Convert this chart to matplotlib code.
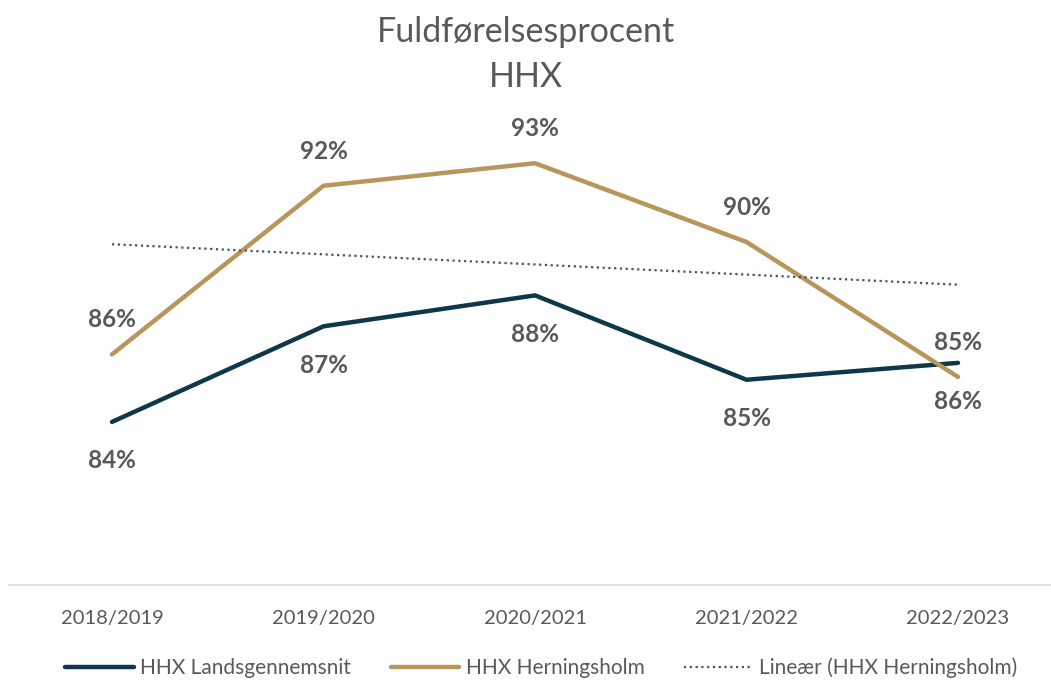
import matplotlib

matplotlib.use("Agg")
import matplotlib.pyplot as plt
import numpy as np

years = ["2018/2019", "2019/2020", "2020/2021", "2021/2022", "2022/2023"]
lands = [83.8, 87.2, 88.3, 85.3, 85.9]
herning = [86.2, 92.2, 93.0, 90.2, 85.4]

NAVY = "#0E3847"
GOLD = "#B8955A"
TREND = "#44546A"
TEXT = "#595959"

plt.rcParams["font.family"] = ["Lato", "DejaVu Sans"]

fig = plt.figure(figsize=(10.51, 6.8), dpi=100)
ax = fig.add_axes([9 / 1051, 1 - 585 / 680, 1 - 9 / 1051, (585 - 107) / 680])

x = np.arange(len(years))
ax.plot(x, lands, color=NAVY, linewidth=3.2, solid_capstyle="round", label="HHX Landsgennemsnit")
ax.plot(x, herning, color=GOLD, linewidth=3.2, solid_capstyle="round", label="HHX Herningsholm")
k, m = np.polyfit(x, herning, 1)
ax.plot(x, k * x + m, color=TREND, linewidth=1.6, linestyle=(0, (1, 1.6)),
        label="Lineær (HHX Herningsholm)")

for i in range(len(years)):
    ax.annotate(f"{round(herning[i])}%", (x[i], herning[i]), xytext=(0, 25),
                textcoords="offset points", ha="center", va="center",
                fontsize=17.5, fontweight="bold", color=TEXT)
    ax.annotate(f"{round(lands[i])}%", (x[i], lands[i]), xytext=(0, -28),
                textcoords="offset points", ha="center", va="center",
                fontsize=17.5, fontweight="bold", color=TEXT)

ax.set_xlim(-103 / 211.5, 939 / 211.5)
ax.set_ylim(78, 95)
ax.set_xticks(x)
ax.set_xticklabels(years, fontsize=14.5, color=TEXT)
ax.tick_params(axis="x", length=0, pad=18)
ax.set_yticks([])
for side in ["top", "left", "right"]:
    ax.spines[side].set_visible(False)
ax.spines["bottom"].set_color("#D9D9D9")
ax.spines["bottom"].set_linewidth(1.2)

fig.text(0.5, 1 - 32 / 680, "Fuldførelsesprocent", ha="center", va="center", fontsize=24.5, color=TEXT)
fig.text(0.5, 1 - 77 / 680, "HHX", ha="center", va="center", fontsize=24.5, color=TEXT)

fig.legend(loc="center", bbox_to_anchor=(0.515, 1 - 668 / 680), ncol=3, frameon=False,
           fontsize=15, labelcolor=TEXT, handlelength=3.3, columnspacing=1.9, handletextpad=0.3)

fig.savefig("out.png", dpi=100)
